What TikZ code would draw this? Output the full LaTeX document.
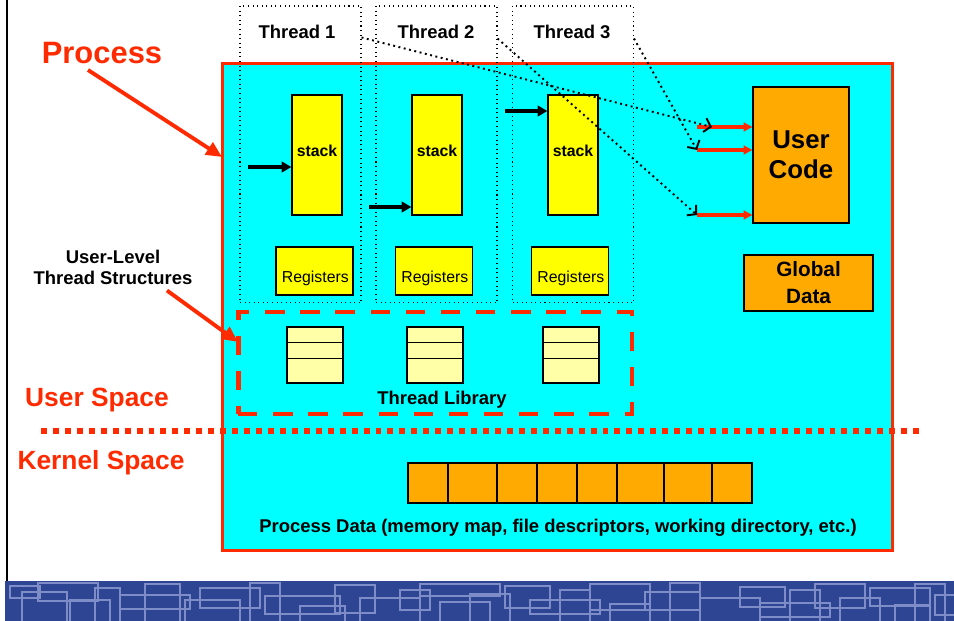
\documentclass[tikz,border=0pt]{standalone}
\usepackage{fontspec}
\setmainfont{Liberation Sans}
\usetikzlibrary{arrows.meta}

\definecolor{proccyan}{HTML}{00FFFF}
\definecolor{procred}{HTML}{FF2A00}
\definecolor{stackyel}{HTML}{FFFF00}
\definecolor{libyel}{HTML}{FFFFA8}
\definecolor{codeorange}{HTML}{FFAA00}
\definecolor{bannerblue}{HTML}{2D4592}
\definecolor{bannerline}{HTML}{7E8DC8}

\begin{document}
\begin{tikzpicture}[x=0.02cm, y=-0.02cm]
 \tikzstyle{procbox}=[draw=procred, fill=proccyan, line width=1.7pt, inner sep=0pt, minimum width=13.42cm, minimum height=9.76cm]
 \tikzstyle{thrbox}=[draw, dotted, line width=0.6pt, inner sep=0pt, minimum width=2.42cm, minimum height=5.94cm]
 \tikzstyle{thrlbl}=[font=\bfseries\fontsize{10.5}{12}\selectfont]
 \tikzstyle{stackbox}=[draw, fill=stackyel, line width=0.7pt, inner sep=0pt, minimum width=1cm, minimum height=2.4cm]
 \tikzstyle{regbox}=[draw, fill=stackyel, line width=0.7pt, inner sep=0pt, minimum width=1.54cm, minimum height=0.96cm]
 \tikzstyle{tcbbox}=[draw, fill=libyel, line width=0.7pt, inner sep=0pt, minimum size=1.12cm]
 \tikzstyle{orgbox}=[draw, fill=codeorange, line width=0.7pt, inner sep=0pt, align=center]
 \tikzstyle{libbox}=[draw=procred, line width=2.8pt, dash pattern=on 11pt off 9pt, inner sep=0pt, minimum width=7.88cm, minimum height=2.04cm]
 \tikzstyle{redlbl}=[text=procred, font=\bfseries\fontsize{15}{18}\selectfont]
 \tikzstyle{estack}=[-{Triangle[length=5.5pt,width=6pt]}, line width=2.4pt]
 \tikzstyle{ecode}=[-{Triangle[length=5pt,width=5pt]}, procred, line width=2pt]
 \tikzstyle{ejump}=[-{Straight Barb[length=3.5pt,width=8pt]}, dotted, line width=1.1pt]
 \tikzstyle{epoint}=[-{Triangle[length=9pt,width=8pt]}, procred, line width=2.2pt]
 \useasboundingbox (0,0) rectangle (954,621);
 %
 % banner along the bottom
 \begin{scope}
  \clip (5,581) rectangle (954,621);
  \fill[bannerblue] (5,581) rectangle (954,621);
  \foreach \x/\y/\w/\h in {10/586/30/12, 22/592/45/40, 38/583/60/18, 70/600/40/30, 95/588/25/40,
    120/595/70/14, 145/584/35/45, 185/600/55/30, 200/588/60/20, 250/583/30/40, 265/596/75/18,
    300/606/45/30, 335/585/40/28, 360/598/60/40, 400/590/30/20, 420/584/80/12, 440/602/50/30,
    470/594/40/40, 505/586/45/22, 530/600/70/14, 560/590/30/40, 590/584/60/26, 610/604/40/30,
    645/592/55/18, 670/583/30/45, 700/598/60/30, 740/587/45/20, 760/603/70/14, 790/590/30/40,
    815/584/50/24, 840/598/40/30, 870/588/60/18, 895/605/35/20, 915/584/30/40, 935/595/25/20}
   \draw[bannerline, line width=1.1pt] (\x,\y) rectangle ++(\w,\h);
 \end{scope}
 \draw[line width=0.9pt] (7,0) -- (7,581);
 %
 \node[procbox] (proc) at (557.5,307) {};
 %
 \node[thrbox] (T1) at (300.5,154.5) {};
 \node[thrbox] (T2) at (436.5,154.5) {};
 \node[thrbox] (T3) at (573,154.5) {};
 \node[thrlbl] (T1l) at (297,32) {Thread 1};
 \node[thrlbl] (T2l) at (436,32) {Thread 2};
 \node[thrlbl] (T3l) at (572,32) {Thread 3};
 %
 \node[stackbox, label={[font=\bfseries\fontsize{9}{10}\selectfont, yshift=2.3pt]center:stack}] (S1) at (317,155) {};
 \node[stackbox, label={[font=\bfseries\fontsize{9}{10}\selectfont, yshift=2.3pt]center:stack}] (S2) at (437,155) {};
 \node[stackbox, label={[font=\bfseries\fontsize{9}{10}\selectfont, yshift=2.3pt]center:stack}] (S3) at (573,155) {};
 %
 \node[regbox, label={[font=\fontsize{9}{10}\selectfont, xshift=0.5pt, yshift=-4.5pt]center:Registers}] (R1) at (314.5,271) {};
 \node[regbox, label={[font=\fontsize{9}{10}\selectfont, xshift=0.5pt, yshift=-4.5pt]center:Registers}] (R2) at (434,271) {};
 \node[regbox, label={[font=\fontsize{9}{10}\selectfont, xshift=0.5pt, yshift=-4.5pt]center:Registers}] (R3) at (570,271) {};
 %
 \node[tcbbox] (L1) at (315,355) {};
 \node[tcbbox] (L2) at (435,355) {};
 \node[tcbbox] (L3) at (571,355) {};
 \foreach \n in {L1,L2,L3} {
  \draw[line width=0.7pt] (\n.north west) ++(0,16) -- ++(56,0);
  \draw[line width=0.7pt] (\n.north west) ++(0,32) -- ++(56,0);
 }
 \node[libbox] (tlib) at (435,363) {};
 \node[thrlbl] (tlibl) at (442,400) {Thread Library};
 %
 \node[orgbox, font=\bfseries\fontsize{14.7}{17}\selectfont, minimum width=1.92cm, minimum height=2.72cm] (UC) at (801,155) {User\\Code};
 \node[orgbox, font=\bfseries\fontsize{11.8}{15.3}\selectfont, minimum width=2.58cm, minimum height=1.12cm] (GD) at (808.5,283) {Global\\Data};
 %
 \foreach \a/\b in {408/448, 448/497, 497/537, 537/577, 577/617, 617/664, 664/712, 712/752}
  \draw[fill=codeorange, line width=0.7pt] (\a,463) rectangle (\b,503);
 \node[thrlbl] (PD) at (558,528) {Process Data (memory map, file descriptors, working directory, etc.)};
 %
 \node[redlbl, font=\bfseries\fontsize{17.6}{20}\selectfont] (procl) at (102,53) {Process};
 \node[thrlbl, align=center] (ults) at (113,267) {User-Level\\Thread Structures};
 \node[redlbl] (usl) at (97,400) {User Space};
 \node[redlbl] (ksl) at (101,463) {Kernel Space};
 \draw[procred, line width=3.4pt, dash pattern=on 3.4pt off 3.4pt] (41,431) -- (920,431);
 %
 \coordinate (pin) at (222,157);
 \coordinate (uin) at (238,342);
 \draw[epoint] ([xshift=-0.28cm]procl.south) -- (pin);
 \draw[epoint] ([xshift=1.08cm]ults.south) -- (uin);
 %
 \coordinate (a1) at (248,167);
 \coordinate (a2) at (369,207);
 \coordinate (a3) at (505,111);
 \draw[estack] (a1) -- (a1 -| S1.west);
 \draw[estack] (a2) -- (a2 -| S2.west);
 \draw[estack] (a3) -- (a3 -| S3.west);
 %
 \coordinate (c1) at (697,127);
 \coordinate (c2) at (697,150);
 \coordinate (c3) at (697,215);
 \draw[ecode] (c1) -- (c1 -| UC.west);
 \draw[ecode] (c2) -- (c2 -| UC.west);
 \draw[ecode] (c3) -- (c3 -| UC.west);
 %
 \draw[ejump] ([yshift=-0.64cm]T1.north east) -- ([xshift=0.3cm]c1);
 \draw[ejump] ([yshift=-0.66cm]T2.north east) -- (c3);
 \draw[ejump] ([yshift=-0.66cm]T3.north east) -- (c2);
\end{tikzpicture}
\end{document}
